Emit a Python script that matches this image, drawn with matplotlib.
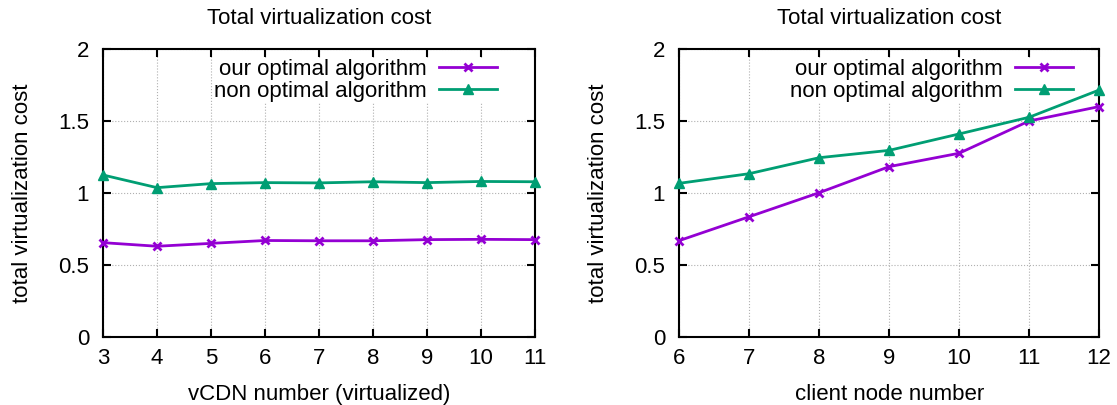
import matplotlib.pyplot as plt
import numpy as np

plt.rcParams['font.family'] = ['Liberation Sans', 'DejaVu Sans']
plt.rcParams['font.size'] = 16

# left panel: vCDN number
vcdn = [3, 4, 5, 6, 7, 8, 9, 10, 11]
opt_left = [0.655, 0.630, 0.650, 0.670, 0.668, 0.668, 0.676, 0.678, 0.676]
nonopt_left = [1.125, 1.037, 1.065, 1.072, 1.070, 1.078, 1.072, 1.080, 1.078]

# right panel: client node number
clients = [6, 7, 8, 9, 10, 11, 12]
opt_right = [0.669, 0.835, 1.002, 1.183, 1.276, 1.500, 1.600]
nonopt_right = [1.067, 1.134, 1.245, 1.296, 1.410, 1.526, 1.715]

purple = '#9400d3'
green = '#009e73'

fig = plt.figure(figsize=(11.17, 4.05), dpi=100)
ax1 = fig.add_axes([0.0922, 0.168, 0.3868, 0.711])
ax2 = fig.add_axes([0.608, 0.168, 0.376, 0.711])

panels = [(ax1, vcdn, opt_left, nonopt_left, 'vCDN number (virtualized)', 0.912),
          (ax2, clients, opt_right, nonopt_right, 'client node number', 0.938)]

for ax, x, y1, y2, xl, lx in panels:
    ax.plot(x, y1, color=purple, lw=2, marker='x', ms=6, mew=2,
            label='our optimal algorithm', clip_on=False, zorder=3)
    ax.plot(x, y2, color=green, lw=2, marker='^', ms=7,
            label='non optimal algorithm', clip_on=False, zorder=3)
    ax.set_xlim(x[0], x[-1])
    ax.set_ylim(0, 2)
    ax.set_xticks(x)
    ax.set_yticks([0, 0.5, 1, 1.5, 2])
    ax.set_yticklabels(['0', '0.5', '1', '1.5', '2'])
    ax.grid(True, color='#b0b0b0', linestyle=':', linewidth=0.8)
    ax.tick_params(direction='in', top=True, right=True, length=6, width=1.5, pad=8)
    ax.tick_params(axis='y', pad=10)
    for s in ax.spines.values():
        s.set_linewidth(1.5)
    ax.set_title('Total virtualization cost', fontsize=16, pad=18)
    ax.set_xlabel(xl, labelpad=11)
    ax.set_ylabel('total virtualization cost', labelpad=18)
    leg = ax.legend(loc='upper right', markerfirst=False, frameon=True,
                    fancybox=False, handlelength=2.6, borderaxespad=0, borderpad=0,
                    labelspacing=0.05, handletextpad=0.55, bbox_to_anchor=(lx, 0.965))
    leg.get_frame().set_edgecolor('none')
    leg.get_frame().set_facecolor('white')
    leg.get_frame().set_alpha(1)
    leg.set_zorder(2.5)
    for t in leg.get_texts():
        t.set_ha('right')

fig.savefig('out.png', dpi=100)
